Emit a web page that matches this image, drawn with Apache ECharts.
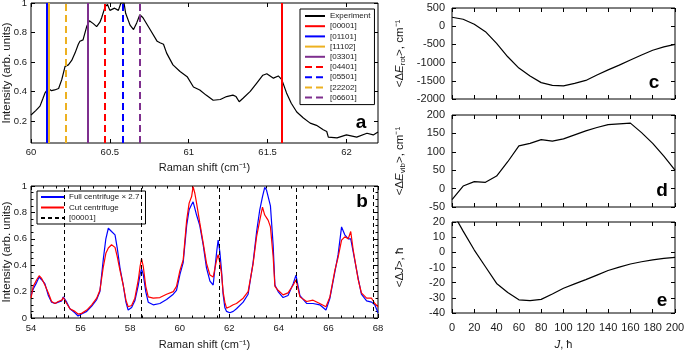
<!DOCTYPE html>
<html>
<head>
<meta charset="utf-8">
<script src="https://cdn.jsdelivr.net/npm/echarts@6.0.0/dist/echarts.min.js"></script>
<style>
  html, body { margin: 0; padding: 0; background: #fff; }
  #chart { width: 685px; height: 352px; }
</style>
</head>
<body>
<div id="chart"></div>
<script>
// panel a: experiment spectrum and mode positions
const expShift = [60.00, 60.03, 60.057, 60.075, 60.089, 60.11, 60.13, 60.15, 60.175, 60.195, 60.216, 60.237, 60.258, 60.279, 60.30, 60.31, 60.33, 60.353, 60.37, 60.395, 60.416, 60.437, 60.448, 60.47, 60.485, 60.50, 60.53, 60.554, 60.57, 60.59, 60.60, 60.628, 60.65, 60.67, 60.69, 60.71, 60.755, 60.80, 60.818, 60.84, 60.86, 60.90, 60.945, 60.99, 61.03, 61.07, 61.11, 61.155, 61.20, 61.24, 61.28, 61.30, 61.32, 61.346, 61.39, 61.43, 61.47, 61.495, 61.537, 61.568, 61.59, 61.62, 61.65, 61.685, 61.727, 61.77, 61.81, 61.853, 61.875, 61.885, 61.94, 62.00, 62.065, 62.13, 62.17, 62.20]
const expIntensity = [0.24, 0.27, 0.30, 0.35, 0.39, 0.42, 0.405, 0.41, 0.42, 0.48, 0.57, 0.58, 0.61, 0.66, 0.72, 0.74, 0.75, 0.84, 0.88, 0.86, 0.84, 0.87, 0.90, 0.975, 0.99, 0.95, 0.965, 0.95, 1.0, 1.0, 0.93, 0.85, 0.82, 0.865, 0.92, 0.90, 0.82, 0.74, 0.73, 0.72, 0.66, 0.58, 0.535, 0.50, 0.43, 0.41, 0.375, 0.34, 0.345, 0.365, 0.375, 0.365, 0.33, 0.355, 0.40, 0.455, 0.51, 0.52, 0.49, 0.505, 0.48, 0.39, 0.32, 0.26, 0.22, 0.185, 0.17, 0.14, 0.128, 0.09, 0.085, 0.105, 0.09, 0.116, 0.105, 0.125]
const modeNames = ['[00001]', '[01101]', '[11102]', '[03301]', '[04401]', '[05501]', '[22202]', '[06601]']
const modeShifts = [61.59, 60.10, 60.11, 60.364, 60.474, 60.58, 60.22, 60.685]

// panel b: full vs cut centrifuge
const bShift = [54.0, 54.09, 54.23, 54.33, 54.43, 54.56, 54.7, 54.83, 54.97, 55.1, 55.24, 55.3, 55.44, 55.57, 55.77, 55.9, 56.04, 56.25, 56.45, 56.65, 56.78, 56.92, 57.02, 57.12, 57.25, 57.39, 57.48, 57.59, 57.72, 57.83, 57.92, 58.06, 58.19, 58.33, 58.4, 58.46, 58.53, 58.63, 58.73, 58.93, 59.2, 59.47, 59.74, 59.87, 60.01, 60.14, 60.28, 60.38, 60.48, 60.54, 60.61, 60.68, 60.81, 60.95, 61.08, 61.22, 61.35, 61.49, 61.55, 61.62, 61.69, 61.75, 61.82, 61.89, 62.02, 62.16, 62.29, 62.56, 62.76, 62.96, 63.1, 63.23, 63.34, 63.43, 63.5, 63.57, 63.66, 63.77, 63.84, 63.97, 64.17, 64.37, 64.58, 64.69, 64.85, 65.12, 65.38, 65.65, 65.9, 66.06, 66.26, 66.39, 66.53, 66.66, 66.8, 66.9, 67.0, 67.2, 67.33, 67.54, 67.74, 67.87, 68.0]
const fullCentrifuge = [0.17, 0.22, 0.27, 0.31, 0.29, 0.26, 0.17, 0.12, 0.11, 0.12, 0.13, 0.16, 0.12, 0.07, 0.04, 0.015, 0.03, 0.05, 0.09, 0.14, 0.20, 0.45, 0.60, 0.68, 0.655, 0.63, 0.53, 0.38, 0.25, 0.12, 0.06, 0.08, 0.13, 0.25, 0.33, 0.37, 0.33, 0.20, 0.12, 0.10, 0.11, 0.14, 0.18, 0.21, 0.33, 0.42, 0.70, 0.82, 0.86, 0.88, 0.83, 0.78, 0.70, 0.55, 0.38, 0.28, 0.25, 0.50, 0.59, 0.50, 0.35, 0.18, 0.08, 0.05, 0.04, 0.05, 0.07, 0.12, 0.18, 0.42, 0.65, 0.82, 0.92, 0.99, 0.97, 0.96, 0.85, 0.55, 0.25, 0.20, 0.155, 0.17, 0.26, 0.325, 0.17, 0.11, 0.11, 0.10, 0.06, 0.15, 0.35, 0.48, 0.69, 0.63, 0.60, 0.60, 0.50, 0.30, 0.18, 0.13, 0.12, 0.10, 0.04]
const cutCentrifuge = [0.15, 0.24, 0.29, 0.32, 0.30, 0.25, 0.19, 0.125, 0.11, 0.125, 0.135, 0.155, 0.11, 0.07, 0.05, 0.03, 0.035, 0.06, 0.10, 0.15, 0.21, 0.39, 0.49, 0.53, 0.555, 0.535, 0.465, 0.36, 0.25, 0.135, 0.085, 0.095, 0.15, 0.29, 0.39, 0.45, 0.39, 0.24, 0.16, 0.15, 0.155, 0.18, 0.20, 0.24, 0.36, 0.44, 0.74, 0.87, 0.92, 0.995, 0.945, 0.87, 0.72, 0.565, 0.415, 0.325, 0.31, 0.44, 0.48, 0.42, 0.33, 0.20, 0.12, 0.075, 0.085, 0.10, 0.11, 0.15, 0.20, 0.41, 0.615, 0.74, 0.84, 0.78, 0.76, 0.74, 0.69, 0.465, 0.24, 0.21, 0.175, 0.19, 0.25, 0.29, 0.16, 0.125, 0.135, 0.11, 0.085, 0.16, 0.36, 0.46, 0.59, 0.615, 0.60, 0.655, 0.515, 0.29, 0.19, 0.15, 0.15, 0.11, 0.085]
const refLines = [55.35, 58.46, 61.58, 64.7, 67.82]

// panels c, d, e: averages vs J
const jValues = [0, 10, 20, 30, 40, 50, 60, 70, 80, 90, 100, 110, 120, 130, 140, 150, 160, 170, 180, 190, 200]
const dErot = [245, 190, 55, -150, -470, -840, -1150, -1370, -1550, -1625, -1640, -1570, -1490, -1340, -1200, -1070, -930, -790, -660, -570, -500]
const dEvib = [-30, 7, 19, 17, 34, 73, 116, 123, 133, 129, 135, 146, 157, 166, 174, 176, 178, 152, 123, 88, 50]
const dJ = [27, 14, 1.5, -9.5, -20.5, -26.5, -31.3, -31.8, -31, -27.5, -23.7, -20.8, -18, -15, -12, -9.8, -7.7, -6.2, -5, -4, -3.3]

const FONT = '"Liberation Sans", Arial, Helvetica, sans-serif'
const INK = '#1a1a1a'

const chart = echarts.init(document.getElementById('chart'), null, { renderer: 'canvas' })

const zip = (xs, ys) => xs.map((x, i) => [x, ys[i]])

// bottom/left axis with labels + mirrored top/right axis with ticks only
function axisPair(grid, o, isX) {
  const tick = {
    show: true, inside: true, length: o.tick || 4,
    lineStyle: { color: '#000', width: 1 }
  }
  if (o.ticks) tick.customValues = o.ticks
  const base = {
    gridIndex: grid, type: 'value', min: o.min, max: o.max, interval: o.interval,
    axisLine: { show: false, onZero: false }, splitLine: { show: false },
    axisTick: tick,
    minorTick: o.minor
      ? { show: true, splitNumber: o.minor, length: 2.5, lineStyle: { color: '#000', width: 1 } }
      : { show: false }
  }
  const label = {
    show: o.labels !== false, fontSize: o.fontSize, color: INK, fontFamily: FONT,
    margin: o.margin, formatter: (v) => String(+v.toFixed(4)),
    showMinLabel: true, showMaxLabel: true
  }
  if (o.ticks) label.customValues = o.ticks
  const main = Object.assign({}, base, {
    position: isX ? 'bottom' : 'left',
    axisLabel: label,
    name: o.name || '', nameLocation: 'middle', nameGap: o.nameGap,
    nameMoveOverlap: false,
    nameTextStyle: Object.assign({
      fontSize: o.nameSize || 11, color: INK, fontFamily: FONT, lineHeight: 14
    }, o.nameStyle || {})
  })
  const mirror = Object.assign({}, base, {
    position: isX ? 'top' : 'right',
    axisLabel: { show: false }
  })
  return [main, mirror]
}

const subRich = {
  i: { fontStyle: 'italic', fontSize: 11.5, fontFamily: FONT, color: INK, lineHeight: 14 },
  s: { fontSize: 8, fontFamily: FONT, color: INK, lineHeight: 8, verticalAlign: 'bottom' }
}

const grids = [
  { left: 31, top: 3, width: 347, height: 140 },
  { left: 31, top: 186, width: 347, height: 132 },
  { left: 452, top: 8, width: 223, height: 91 },
  { left: 452, top: 115, width: 223, height: 92 },
  { left: 452, top: 222, width: 223, height: 91 }
].map((g) => Object.assign(g, {
  show: true, borderColor: '#000', borderWidth: 1, backgroundColor: 'transparent',
  containLabel: false, outerBoundsMode: 'none'
}))

const xAxes = [
  ...axisPair(0, { min: 60, max: 62.2, ticks: [60, 60.5, 61, 61.5, 62], fontSize: 9.5, margin: 4,
    name: 'Raman shift (cm⁻¹)', nameGap: 18 }, true),
  ...axisPair(1, { min: 54, max: 68, interval: 2, minor: 4, fontSize: 9.5, margin: 5,
    name: 'Raman shift (cm⁻¹)', nameGap: 20 }, true),
  ...axisPair(2, { min: 0, max: 200, interval: 20, labels: false }, true),
  ...axisPair(3, { min: 0, max: 200, interval: 20, labels: false }, true),
  ...axisPair(4, { min: 0, max: 200, interval: 20, fontSize: 11, margin: 9,
    name: '{i|J}, ħ', nameGap: 25, nameStyle: { rich: subRich } }, true)
]

const yAxes = [
  ...axisPair(0, { min: 0.05, max: 1, ticks: [0.2, 0.4, 0.6, 0.8, 1], fontSize: 9.5, margin: 4,
    name: 'Intensity (arb. units)', nameGap: 17, nameSize: 11.5 }, false),
  ...axisPair(1, { min: 0, max: 1, interval: 0.2, minor: 4, fontSize: 9.5, margin: 4,
    name: 'Intensity (arb. units)', nameGap: 17, nameSize: 11.5 }, false),
  ...axisPair(2, { min: -2000, max: 500, interval: 500, fontSize: 11, margin: 7,
    name: '<Δ{i|E}{s|rot}>, cm⁻¹', nameGap: 45, nameSize: 11.5, nameStyle: { rich: subRich } }, false),
  ...axisPair(3, { min: -50, max: 200, interval: 50, fontSize: 11, margin: 7,
    name: '<Δ{i|E}{s|vib}>, cm⁻¹', nameGap: 45, nameSize: 11.5, nameStyle: { rich: subRich } }, false),
  ...axisPair(4, { min: -40, max: 20, interval: 10, fontSize: 11, margin: 7,
    name: '<Δ{i|J}>, ħ', nameGap: 45, nameSize: 11.5, nameStyle: { rich: subRich } }, false)
]

// styles for the mode lines in panel a
const modeColors = ['#ff0000', '#0000ff', '#edb120', '#7e2f8e', '#ff0000', '#0000ff', '#edb120', '#7e2f8e']

const series = []
series.push({
  name: 'Experiment', type: 'line', xAxisIndex: 0, yAxisIndex: 0,
  data: zip(expShift, expIntensity), symbol: 'none', clip: true,
  lineStyle: { color: '#000', width: 1.2 }, itemStyle: { color: '#000' }, z: 3
})
modeNames.forEach((name, i) => {
  const dashed = i >= 4
  const ls = { color: modeColors[i], width: 2, type: dashed ? [7, 4] : 'solid' }
  series.push({
    name, type: 'line', xAxisIndex: 0, yAxisIndex: 0, data: [], symbol: 'none',
    lineStyle: ls, itemStyle: { color: modeColors[i] },
    markLine: {
      silent: true, symbol: 'none', animation: false, label: { show: false },
      lineStyle: ls, data: [{ xAxis: modeShifts[i] }]
    }
  })
})
series.push({
  name: 'Full centrifuge × 2.7', type: 'line', xAxisIndex: 2, yAxisIndex: 2,
  data: zip(bShift, fullCentrifuge), symbol: 'none',
  lineStyle: { color: '#0000ff', width: 1.2 }, itemStyle: { color: '#0000ff' }
})
series.push({
  name: 'Cut centrifuge', type: 'line', xAxisIndex: 2, yAxisIndex: 2,
  data: zip(bShift, cutCentrifuge), symbol: 'none',
  lineStyle: { color: '#ff0000', width: 1.2 }, itemStyle: { color: '#ff0000' }
})
series.push({
  name: 'b00001', type: 'line', xAxisIndex: 2, yAxisIndex: 2, data: [], symbol: 'none',
  lineStyle: { color: '#000', width: 1, type: [4, 3] }, itemStyle: { color: '#000' },
  markLine: {
    silent: true, symbol: 'none', animation: false, label: { show: false },
    lineStyle: { color: '#000', width: 1, type: [4, 3] },
    data: refLines.map((v) => ({ xAxis: v }))
  }
})
const rightData = [dErot, dEvib, dJ]
rightData.forEach((vals, k) => {
  series.push({
    name: 'J' + k, type: 'line', xAxisIndex: 4 + 2 * k, yAxisIndex: 4 + 2 * k,
    data: zip(jValues, vals), symbol: 'none', clip: true,
    lineStyle: { color: '#000', width: 1.2 }
  })
})

const panelLetters = [
  { t: 'a', x: 361, y: 123 },
  { t: 'b', x: 362, y: 202 },
  { t: 'c', x: 654, y: 83 },
  { t: 'd', x: 662, y: 191 },
  { t: 'e', x: 662, y: 301 }
]

const legendBase = {
  orient: 'vertical', borderColor: '#000', borderWidth: 1, backgroundColor: '#fff',
  textStyle: { fontSize: 8, fontFamily: FONT, color: INK },
  itemStyle: { opacity: 0 }
}

chart.setOption({
  animation: false,
  backgroundColor: '#fff',
  grid: grids,
  xAxis: xAxes,
  yAxis: yAxes,
  legend: [
    Object.assign({}, legendBase, {
      left: 300, top: 9, padding: [3, 4, 3, 4],
      itemGap: 2.2, itemWidth: 20, itemHeight: 8,
      data: ['Experiment', ...modeNames]
    }),
    Object.assign({}, legendBase, {
      left: 37, top: 191, padding: [2, 6, 2, 3],
      itemGap: 2.5, itemWidth: 23, itemHeight: 8,
      formatter: (n) => (n === 'b00001' ? '[00001]' : n),
      data: ['Full centrifuge × 2.7', 'Cut centrifuge', 'b00001']
    })
  ],
  graphic: panelLetters.map((p) => ({
    type: 'text', x: p.x, y: p.y, silent: true, z: 100,
    style: {
      text: p.t, fill: '#000', font: 'bold 19px ' + FONT,
      align: 'center', verticalAlign: 'middle'
    }
  })),
  series
})
</script>
</body>
</html>
